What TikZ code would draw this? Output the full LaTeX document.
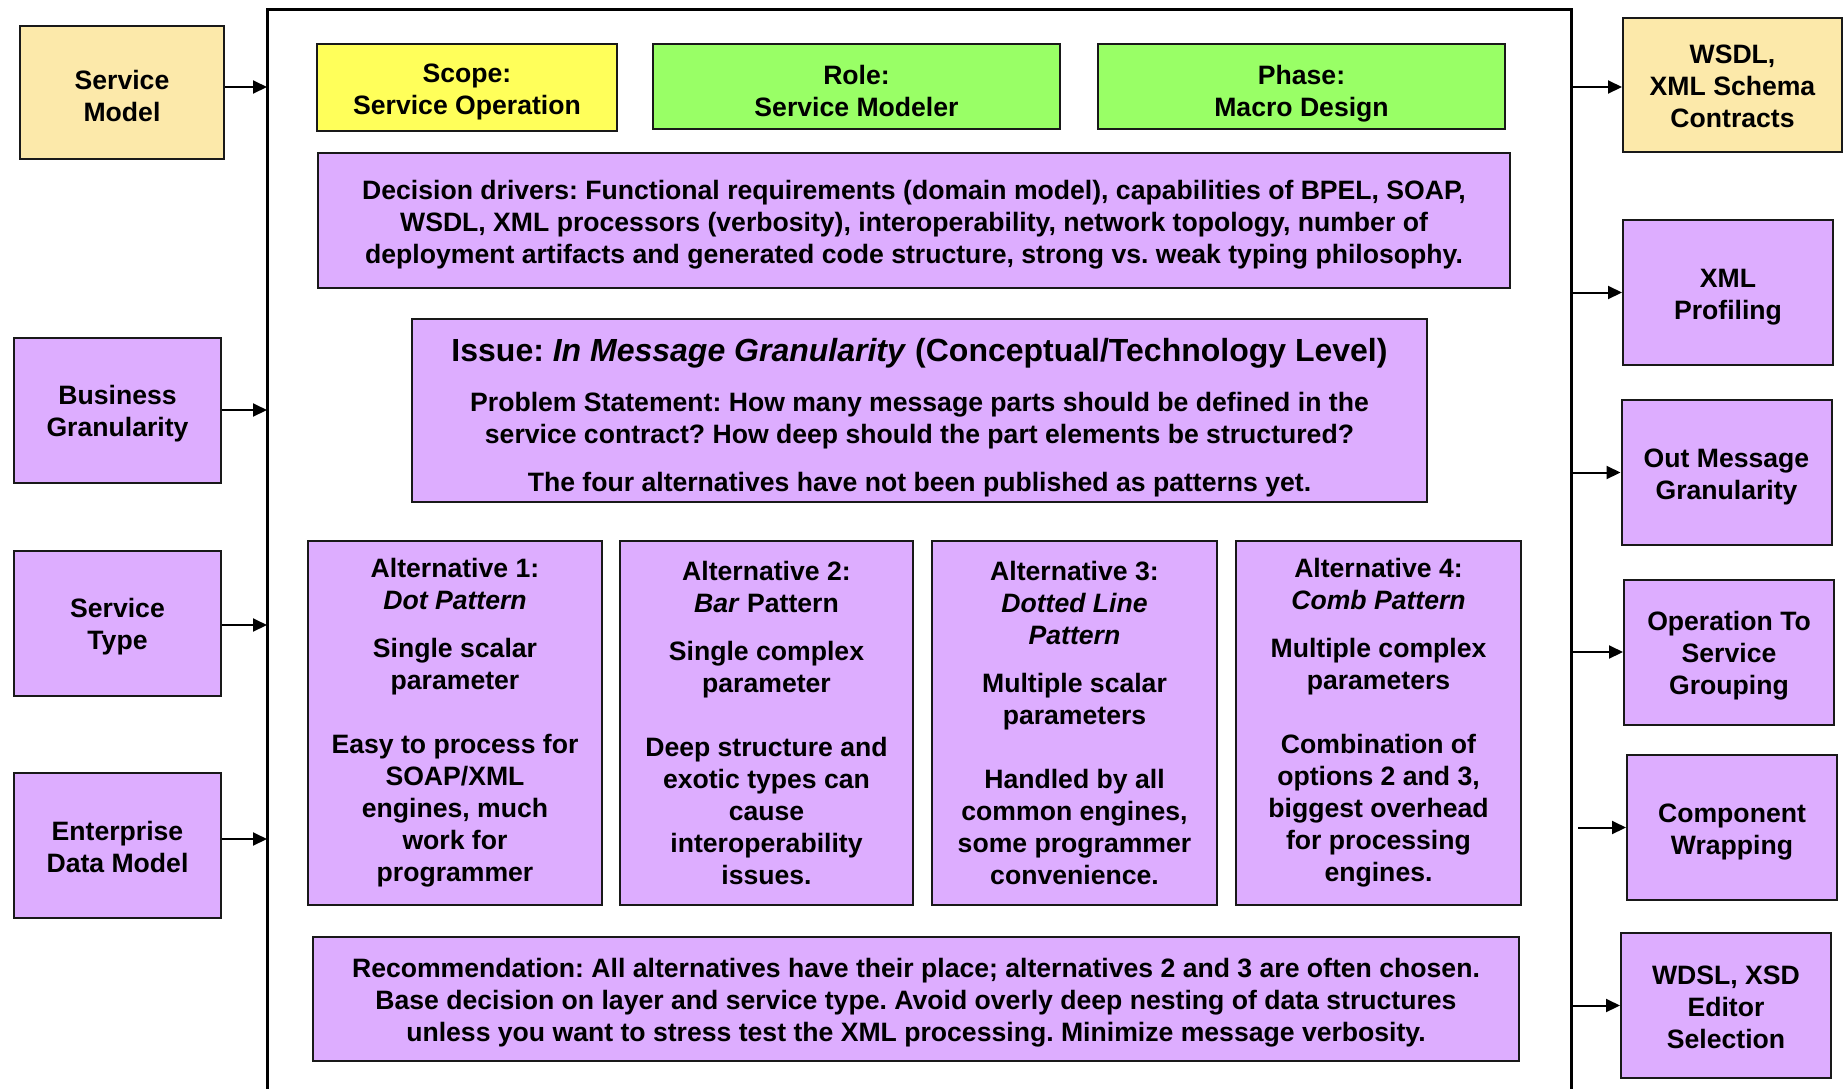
\documentclass[tikz,border=0pt]{standalone}
\usepackage{fontspec}
\setmainfont{Liberation Sans}
\usetikzlibrary{arrows.meta}

\definecolor{modelbeige}{RGB}{252,233,170}
\definecolor{scopeyellow}{RGB}{255,255,90}
\definecolor{rolegreen}{RGB}{153,255,102}
\definecolor{issuepurple}{RGB}{221,173,255}

% fixed first line height and last line depth, so text sits on the same baselines
\newcommand{\headstrut}[1][27pt]{\rule{0pt}{#1}}
\newcommand{\footstrut}{\rule[-6pt]{0pt}{6pt}}

\begin{document}
\begin{tikzpicture}[x=1pt,y=-1pt,
    box/.style={rectangle,draw=black!90,line width=2pt,align=center,inner sep=0pt,
      font=\fontsize{26.6}{32}\selectfont\bfseries\frenchspacing},
    purplebox/.style={box,fill=issuepurple},
    beigebox/.style={box,fill=modelbeige},
    sidebox/.style={purplebox,minimum width=210,minimum height=145},
    altbox/.style={purplebox,minimum height=364},
    feeds/.style={line width=2pt,-{Triangle[length=14pt,width=13pt]}}]
  \useasboundingbox (0,0) rectangle (1845,1088);

  % frame round the decision
  \draw[line width=3pt] (267,1100) -- (267,9) -- (1571,9) -- (1571,1100);
  \coordinate (frameL) at (267,0);
  \coordinate (frameR) at (1571,0);

  % inputs on the left
  \node[beigebox,minimum width=204,minimum height=133] (svcmodel) at (122,92.5) {\headstrut[31pt]Service\\Model\footstrut};
  \node[sidebox,minimum width=207] (bizgran) at (117.5,410) {\headstrut Business\\Granularity\footstrut};
  \node[sidebox,minimum width=207] (svctype) at (117.5,623) {\headstrut Service\\Type\footstrut};
  \node[sidebox,minimum width=207] (entdata) at (117.5,845.5) {\headstrut Enterprise\\Data Model\footstrut};

  % outputs on the right
  \node[beigebox,minimum width=219,minimum height=134] (contracts) at (1732.5,85) {\headstrut WSDL,\\XML Schema\\Contracts\footstrut};
  \node[sidebox] (xmlprof) at (1728,292.5) {\headstrut XML\\Profiling\footstrut};
  \node[sidebox] (outgran) at (1726.5,472.5) {\headstrut Out Message\\Granularity\footstrut};
  \node[sidebox] (opgroup) at (1729,652) {\headstrut Operation To\\Service\\Grouping\footstrut};
  \node[sidebox] (compwrap) at (1732,827.5) {\headstrut Component\\Wrapping\footstrut};
  \node[sidebox] (editorsel) at (1726,1005.5) {\headstrut WDSL, XSD\\Editor\\Selection\footstrut};

  % context of the decision
  \node[box,fill=scopeyellow,minimum width=300,minimum height=87] (scope) at (467,87.5) {\headstrut Scope:\\Service Operation\footstrut};
  \node[box,fill=rolegreen,minimum width=407,minimum height=85] (role) at (856.5,86.5) {\headstrut[34pt]Role:\\Service Modeler\footstrut};
  \node[box,fill=rolegreen,minimum width=407,minimum height=85] (phase) at (1301.5,86.5) {\headstrut[34pt]Phase:\\Macro Design\footstrut};

  \node[purplebox,minimum width=1192,minimum height=135] (drivers) at (914,220.5)
    {\headstrut Decision drivers: Functional requirements (domain model), capabilities of BPEL, SOAP,\\
     WSDL, XML processors (verbosity), interoperability, network topology, number of\\
     deployment artifacts and generated code structure, strong vs. weak typing philosophy.\footstrut};

  \node[purplebox,minimum width=1015,minimum height=183] (issue) at (919.5,410.5)
    {{\fontsize{32}{38}\selectfont\rule{0pt}{37pt}Issue: \textit{In Message Granularity} (Conceptual/Technology Level)}\\[18pt]
     Problem Statement: How many message parts should be defined in the\\
     service contract? How deep should the part elements be structured?\\[16pt]
     The four alternatives have not been published as patterns yet.};

  % the four alternatives
  \node[altbox,minimum width=294] (alt1) at (455,722.5)
    {Alternative 1:\\\textit{Dot Pattern}\\[16pt]Single scalar\\parameter\\[32pt]
     Easy to process for\\SOAP/XML\\engines, much\\work for\\programmer};
  \node[altbox,minimum width=293] (alt2) at (766.5,722.5)
    {Alternative 2:\\\textit{Bar} Pattern\\[16pt]Single complex\\parameter\\[32pt]
     Deep structure and\\exotic types can\\cause\\interoperability\\issues.};
  \node[altbox,minimum width=285] (alt3) at (1074.5,722.5)
    {Alternative 3:\\\textit{Dotted Line}\\\textit{Pattern}\\[16pt]Multiple scalar\\parameters\\[32pt]
     Handled by all\\common engines,\\some programmer\\convenience.};
  \node[altbox,minimum width=285] (alt4) at (1378.5,723)
    {Alternative 4:\\\textit{Comb Pattern}\\[16pt]Multiple complex\\parameters\\[32pt]
     Combination of\\options 2 and 3,\\biggest overhead\\for processing\\engines.};

  \node[purplebox,minimum width=1206,minimum height=124] (recommend) at (916,999)
    {\headstrut[26pt]Recommendation: All alternatives have their place; alternatives 2 and 3 are often chosen.\\
     Base decision on layer and service type. Avoid overly deep nesting of data structures\\
     unless you want to stress test the XML processing. Minimize message verbosity.\footstrut};

  % connectors
  \foreach \src/\dy in {svcmodel/5.5,bizgran/0,svctype/-2,entdata/6.5}
    \draw[feeds] ([yshift=\dy]\src.east) -- ([yshift=\dy]\src.east -| frameL);
  \foreach \dst/\dy in {contracts/-2,xmlprof/0,outgran/0,opgroup/0,editorsel/0}
    \draw[feeds] ([yshift=\dy]\dst.west -| frameR) -- ([yshift=\dy]\dst.west);
  \draw[feeds,shorten <=7pt] (compwrap.west -| frameR) -- (compwrap.west);
\end{tikzpicture}
\end{document}
